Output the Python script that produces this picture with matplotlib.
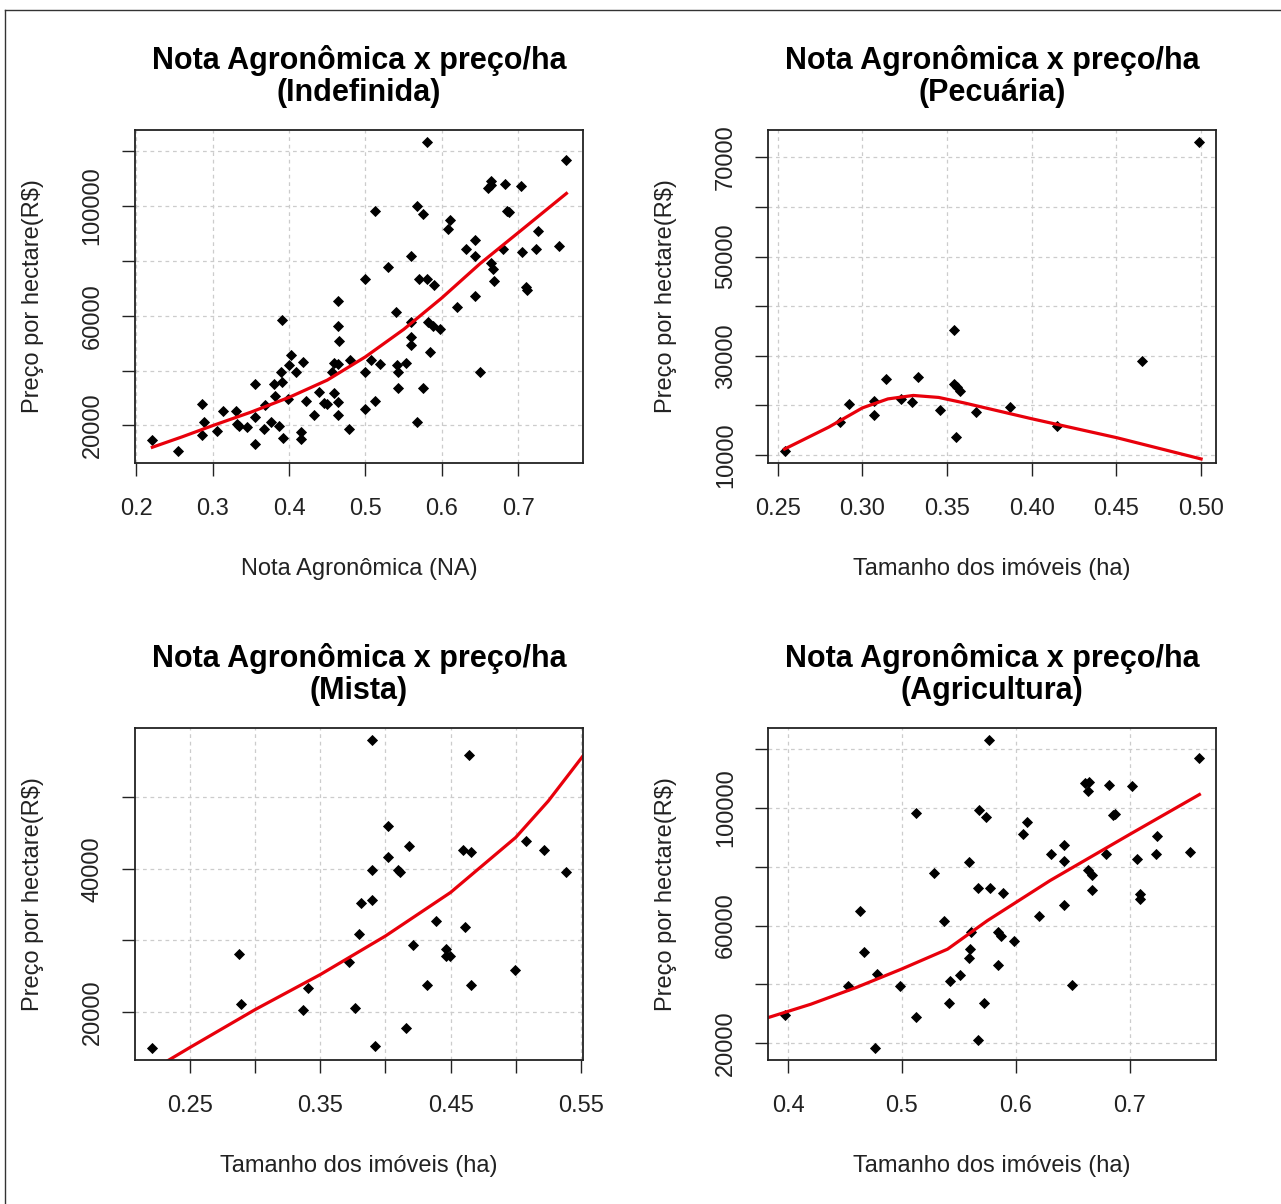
import matplotlib
matplotlib.use("Agg")
import matplotlib.pyplot as plt
from matplotlib.lines import Line2D

plt.rcParams['font.family'] = ['Liberation Sans', 'DejaVu Sans']

# ---- Indefinida (top left) ----
ind_x = [0.220, 0.254, 0.286, 0.288, 0.286, 0.306, 0.314, 0.331, 0.332, 0.334,
         0.345, 0.356, 0.356, 0.355, 0.367, 0.369, 0.376, 0.380, 0.381, 0.387,
         0.391, 0.391, 0.390, 0.392, 0.399, 0.402, 0.400, 0.409, 0.416, 0.416,
         0.418, 0.422, 0.432, 0.439, 0.446, 0.449, 0.456, 0.459, 0.459, 0.464,
         0.464, 0.464, 0.464, 0.464, 0.465, 0.478, 0.480, 0.499, 0.500, 0.499,
         0.512, 0.507, 0.519, 0.512, 0.530, 0.540, 0.541, 0.542, 0.553, 0.542,
         0.560, 0.560, 0.560, 0.560, 0.568, 0.575, 0.570, 0.580, 0.590, 0.567,
         0.575, 0.585, 0.580, 0.582, 0.589, 0.597, 0.610, 0.608, 0.620, 0.632,
         0.643, 0.643, 0.643, 0.650, 0.664, 0.661, 0.664, 0.682, 0.703, 0.664,
         0.667, 0.668, 0.680, 0.685, 0.688, 0.705, 0.710, 0.711, 0.726, 0.723,
         0.753, 0.763]
ind_y = [14770, 10750, 27800, 21350, 16500, 18060, 25100, 25100, 20500, 19900,
         19270, 35130, 23180, 13200, 18680, 27460, 21100, 35130, 30600, 19900,
         35700, 58280, 39630, 15250, 29650, 45480, 41830, 39380, 17440, 15030,
         43030, 29030, 23800, 32060, 28190, 27820, 39630, 42810, 31850, 42450,
         28660, 23800, 65220, 56080, 50860, 18680, 43650, 73270, 39630, 26000,
         98130, 43650, 42300, 29030, 77770, 61310, 41830, 39630, 42810, 33670,
         81790, 57660, 52060, 49390, 99960, 96930, 73270, 73270, 71080, 21350,
         33670, 46690, 123250, 57660, 56200, 54990, 94840, 91550, 63140, 84490,
         87530, 81790, 67160, 39630, 107640, 106430, 109100, 108000, 107270, 79380,
         76920, 72540, 84230, 98130, 97650, 83250, 70460, 69250, 90820, 84230,
         85440, 116780]
ind_fit_x = [0.221, 0.26, 0.30, 0.35, 0.40, 0.45, 0.50, 0.55, 0.60, 0.65, 0.70, 0.763]
ind_fit_y = [12000, 15800, 19900, 24800, 30200, 36500, 45000, 55000, 66500, 79000, 90300, 104600]

# ---- Pecuaria (top right) ----
pec_x = [0.254, 0.287, 0.292, 0.307, 0.307, 0.314, 0.323, 0.329, 0.3325, 0.346,
         0.354, 0.354, 0.356, 0.3575, 0.3555, 0.367, 0.387, 0.415, 0.465, 0.499]
pec_y = [10870, 16570, 20280, 20950, 18060, 25320, 21290, 20600, 25650, 19130,
         35260, 24310, 23630, 22960, 13690, 18730, 19600, 15770, 29010, 73020]
pec_fit_x = [0.254, 0.28, 0.30, 0.315, 0.33, 0.345, 0.36, 0.375, 0.40, 0.45, 0.50]
pec_fit_y = [11200, 15600, 19500, 21300, 22000, 21600, 20500, 19300, 17300, 13500, 9200]

# ---- Mista (bottom left) ----
mis_x = [0.2205, 0.2877, 0.289, 0.3364, 0.3408, 0.3718, 0.3769, 0.380, 0.381, 0.390,
         0.390, 0.3895, 0.392, 0.4023, 0.4023, 0.4095, 0.4108, 0.418, 0.4158, 0.4215,
         0.4318, 0.4389, 0.4466, 0.4466, 0.4492, 0.4641, 0.4595, 0.4659, 0.4608, 0.4659,
         0.4992, 0.5082, 0.5218, 0.5389]
mis_y = [14960, 28020, 21020, 20220, 23300, 27000, 20500, 30810, 35150, 58000,
         35610, 39900, 15190, 45970, 41690, 39800, 39530, 43170, 17760, 29280,
         23780, 32630, 28810, 27780, 27780, 56000, 42700, 42430, 31840, 23780,
         25820, 43870, 42710, 39630]
mis_fit_x = [0.2205, 0.2325, 0.25, 0.30, 0.35, 0.40, 0.45, 0.50, 0.525, 0.552]
mis_fit_y = [11800, 13100, 15000, 20300, 25200, 30600, 36700, 44400, 49500, 55900]

# ---- Agricultura (bottom right) ----
agr_x = [0.397, 0.463, 0.467, 0.478, 0.453, 0.476, 0.498, 0.512, 0.512, 0.528,
         0.537, 0.542, 0.541, 0.551, 0.559, 0.561, 0.560, 0.559, 0.567, 0.568,
         0.574, 0.572, 0.567, 0.576, 0.577, 0.589, 0.584, 0.587, 0.598, 0.584,
         0.606, 0.610, 0.620, 0.631, 0.642, 0.642, 0.642, 0.649, 0.661, 0.663,
         0.664, 0.682, 0.702, 0.663, 0.667, 0.667, 0.679, 0.685, 0.687, 0.706,
         0.709, 0.709, 0.723, 0.724, 0.753, 0.761]
agr_y = [29500, 64890, 50980, 43650, 39440, 18540, 39440, 98280, 29060, 77920,
         61500, 41140, 33810, 43070, 81510, 57760, 52130, 49080, 72830, 99400,
         96790, 33810, 21120, 122910, 72830, 71130, 57900, 56410, 54610, 46470,
         91250, 95090, 63190, 84470, 87520, 82090, 66930, 39920, 108460, 105840,
         108670, 107880, 107300, 79040, 77340, 72250, 84360, 97460, 98040, 82670,
         70560, 69100, 84470, 90570, 85150, 116940]
agr_fit_x = [0.382, 0.42, 0.46, 0.50, 0.54, 0.575, 0.63, 0.70, 0.761]
agr_fit_y = [28700, 33300, 39000, 45300, 52000, 61700, 75300, 91000, 104500]

# ticks (an empty label means the tick is drawn without a number)
ind_xticks = [0.2, 0.3, 0.4, 0.5, 0.6, 0.7]
ind_xlabels = ['0.2', '0.3', '0.4', '0.5', '0.6', '0.7']
ind_yticks = [20000, 40000, 60000, 80000, 100000, 120000]
ind_ylabels = ['20000', '', '60000', '', '100000', '']

pec_xticks = [0.25, 0.30, 0.35, 0.40, 0.45, 0.50]
pec_xlabels = ['0.25', '0.30', '0.35', '0.40', '0.45', '0.50']
pec_yticks = [10000, 20000, 30000, 40000, 50000, 60000, 70000]
pec_ylabels = ['10000', '', '30000', '', '50000', '', '70000']

mis_xticks = [0.25, 0.30, 0.35, 0.40, 0.45, 0.50, 0.55]
mis_xlabels = ['0.25', '', '0.35', '', '0.45', '', '0.55']
mis_yticks = [20000, 30000, 40000, 50000]
mis_ylabels = ['20000', '', '40000', '']

agr_xticks = [0.4, 0.5, 0.6, 0.7]
agr_xlabels = ['0.4', '0.5', '0.6', '0.7']
agr_yticks = ind_yticks
agr_ylabels = ind_ylabels

TITLE = 'Nota Agronômica x preço/ha'
YLAB = 'Preço por hectare(R$)'

W, H = 1281, 1204
fig = plt.figure(figsize=(W / 100, H / 100), dpi=100)


def r_range(v):
    # same 4% padding R uses around the data
    lo, hi = min(v), max(v)
    d = (hi - lo) * 0.04
    return lo - d, hi + d


def panel(box, xs, ys, fx, fy, sub, xlab, xticks, xlabels, yticks, ylabels):
    x0, y0, x1, y1 = box
    ax = fig.add_axes([x0 / W, 1 - y1 / H, (x1 - x0) / W, (y1 - y0) / H])
    ax.set_xlim(*r_range(xs))
    ax.set_ylim(*r_range(ys))
    ax.set_xticks(xticks)
    ax.set_xticklabels(xlabels)
    ax.set_yticks(yticks)
    ax.set_yticklabels(ylabels, rotation=90, va='center')
    ax.grid(True, color='#cccccc', linestyle=(0, (3, 3)), linewidth=0.9)
    ax.set_axisbelow(True)
    ax.plot(xs, ys, linestyle='none', marker='D', markersize=5.5,
            color='black', markeredgewidth=0.6)
    ax.plot(fx, fy, color='#e8000b', linewidth=2.3)
    ax.tick_params(direction='out', length=9.5, width=1, labelsize=17,
                   color='#222222', labelcolor='#222222')
    ax.tick_params(axis='x', pad=16)
    ax.tick_params(axis='y', pad=13)
    for s in ax.spines.values():
        s.set_color('#222222')
        s.set_linewidth(1.3)
    ax.set_title(TITLE + '\n(' + sub + ')', fontsize=22, fontweight='bold',
                 pad=21, linespacing=1.1)
    ax.set_xlabel(xlab, fontsize=17, labelpad=27, color='#222222')
    ax.set_ylabel(YLAB, fontsize=17, labelpad=27, color='#222222')
    return ax


panel((135, 130, 583, 463), ind_x, ind_y, ind_fit_x, ind_fit_y, 'Indefinida',
      'Nota Agronômica (NA)', ind_xticks, ind_xlabels, ind_yticks, ind_ylabels)
panel((768, 130, 1216, 463), pec_x, pec_y, pec_fit_x, pec_fit_y, 'Pecuária',
      'Tamanho dos imóveis (ha)', pec_xticks, pec_xlabels, pec_yticks, pec_ylabels)
panel((135, 728, 583, 1060), mis_x, mis_y, mis_fit_x, mis_fit_y, 'Mista',
      'Tamanho dos imóveis (ha)', mis_xticks, mis_xlabels, mis_yticks, mis_ylabels)
panel((768, 728, 1216, 1060), agr_x, agr_y, agr_fit_x, agr_fit_y, 'Agricultura',
      'Tamanho dos imóveis (ha)', agr_xticks, agr_xlabels, agr_yticks, agr_ylabels)

# thin frame on the left and top edges
fig.add_artist(Line2D([5 / W, 5 / W], [0, 1 - 10 / H], color='#333333', lw=1))
fig.add_artist(Line2D([5 / W, 1], [1 - 10 / H, 1 - 10 / H], color='#333333', lw=1))

fig.savefig('out.png', dpi=100)
